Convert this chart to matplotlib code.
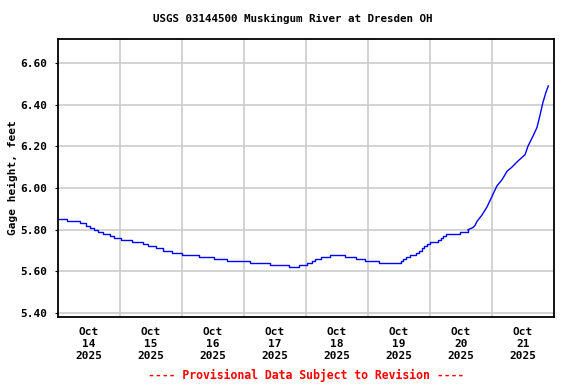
import numpy as np
import matplotlib
matplotlib.use('Agg')
import matplotlib.pyplot as plt

# hours since 2025-10-14 00:00, gage height in feet
step_hours = [0, 3.4, 8.5, 10.7, 12.4, 14.1, 15.4, 17.5, 20.1, 21.8, 24.4, 28.8,
              33.0, 35.0, 37.9, 40.8, 44.2, 48.1, 54.7, 60.5, 65.5, 74.3, 82.1,
              89.5, 93.3, 96.3, 98.2, 99.5, 101.7, 105.3, 111.1, 115.4, 119.0,
              124.4, 132.6, 133.5, 134.7, 136.3, 138.6, 139.7, 140.9, 141.7,
              142.8, 144.0, 147.1, 148.3, 149.0, 150.2, 155.6, 158.7]
step_vals = [5.85, 5.84, 5.83, 5.82, 5.81, 5.80, 5.79, 5.78, 5.77, 5.76, 5.75, 5.74,
             5.73, 5.72, 5.71, 5.70, 5.69, 5.68, 5.67, 5.66, 5.65, 5.64, 5.63,
             5.62, 5.63, 5.64, 5.65, 5.66, 5.67, 5.68, 5.67, 5.66, 5.65,
             5.64, 5.65, 5.66, 5.67, 5.68, 5.69, 5.70, 5.71, 5.72,
             5.73, 5.74, 5.75, 5.76, 5.77, 5.78, 5.79, 5.80]

rise_hours = [158.7, 160.6, 161.4, 162.2, 164.1, 166.1, 168.0, 169.9, 171.9, 173.8,
              175.7, 178.1, 180.8, 181.9, 183.9, 185.4, 186.6, 187.7, 188.9, 189.8]
rise_vals = [5.80, 5.81, 5.82, 5.84, 5.87, 5.91, 5.96, 6.01, 6.04, 6.08,
             6.10, 6.13, 6.16, 6.20, 6.25, 6.29, 6.35, 6.41, 6.46, 6.49]

day_labels = ['Oct\n14\n2025', 'Oct\n15\n2025', 'Oct\n16\n2025', 'Oct\n17\n2025',
              'Oct\n18\n2025', 'Oct\n19\n2025', 'Oct\n20\n2025', 'Oct\n21\n2025']
y_ticks = [5.40, 5.60, 5.80, 6.00, 6.20, 6.40, 6.60]

MONO = 'DejaVu Sans Mono'

fig = plt.figure(figsize=(5.76, 3.84), dpi=100)
ax = fig.add_axes([58 / 576, 1 - 317 / 384, (554 - 58) / 576, (317 - 39) / 384])

ax.step(step_hours, step_vals, where='post', color='#0000ff', lw=1.0)
ax.plot(rise_hours, rise_vals, color='#0000ff', lw=1.0)

ax.set_xlim(0, 192)
ax.set_ylim(5.381, 6.715)

# labels at noon, grid at midnight
ax.set_xticks([24 * i + 12 for i in range(len(day_labels))])
ax.set_xticklabels(day_labels, fontfamily=MONO, fontweight='bold', fontsize=8,
                   linespacing=1.25)
ax.set_xticks([24 * i for i in range(1, 8)], minor=True)
ax.tick_params(axis='x', which='both', length=0, pad=7)
ax.set_yticks(y_ticks)
ax.set_yticklabels(['%.2f' % v for v in y_ticks], fontfamily=MONO,
                   fontweight='bold', fontsize=8)
ax.tick_params(axis='y', length=2, width=0.8, pad=6)

ax.grid(True, which='minor', axis='x', color='#cccccc', lw=1.2)
ax.grid(True, which='major', axis='y', color='#cccccc', lw=1.2)
ax.set_axisbelow(True)
for s in ax.spines.values():
    s.set_linewidth(1.3)

ax.set_ylabel('Gage height, feet', fontfamily=MONO, fontweight='bold', fontsize=8)
ax.yaxis.set_label_coords(-0.081, 0.5)

fig.text(293 / 576, 1 - 19 / 384, 'USGS 03144500 Muskingum River at Dresden OH',
         ha='center', va='center', fontfamily=MONO, fontweight='bold', fontsize=7.8)
fig.text(306 / 576, 1 - 375 / 384, '---- Provisional Data Subject to Revision ----',
         ha='center', va='center', fontfamily=MONO, fontweight='bold',
         fontsize=8.3, color='#ff0000')

fig.savefig('out.png', dpi=100)
